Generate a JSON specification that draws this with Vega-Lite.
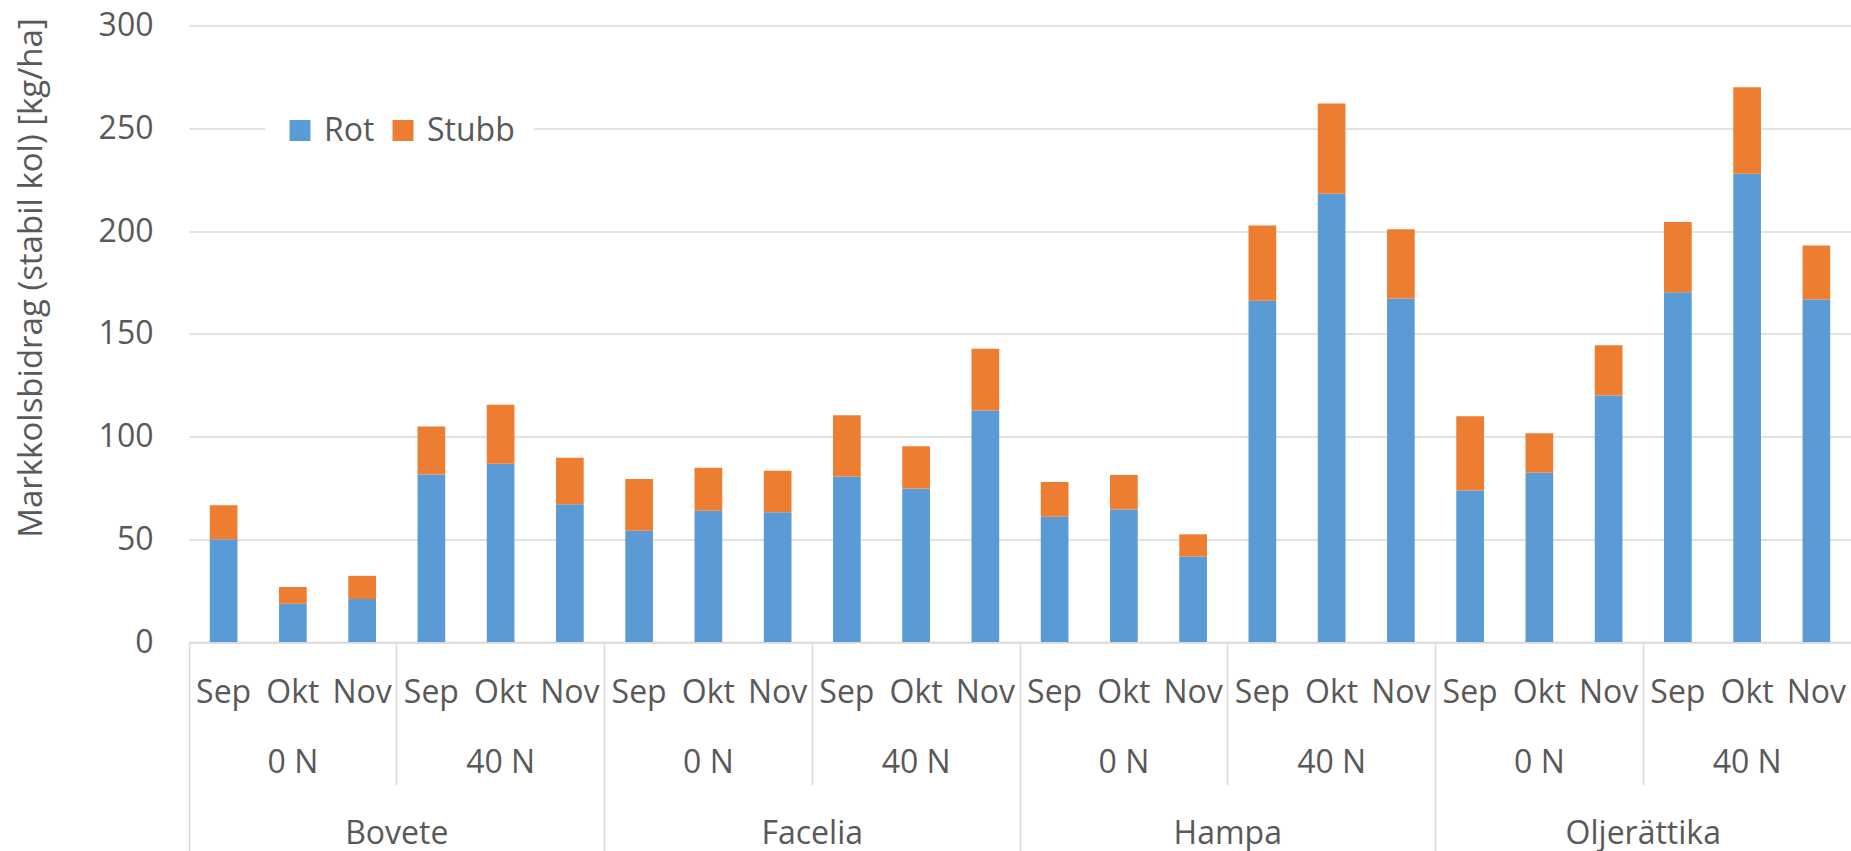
{
  "$schema": "https://vega.github.io/schema/vega-lite/v6.json",
  "width": 1662,
  "height": 616.5,
  "autosize": {"type": "none"},
  "padding": {"left": 189, "top": 25.5, "right": 0, "bottom": 209},
  "config": {
    "font": "Open Sans",
    "view": {"stroke": null},
    "axis": {"labelFont": "Open Sans", "titleFont": "Open Sans", "labelColor": "#595959", "titleColor": "#595959", "labelFontSize": 32, "titleFontSize": 33, "titleFontWeight": "normal"}
  },
  "data": {
    "values": [
      {"g": "Bovete|0 N|Sep", "part": "Rot", "v": 50.0}, {"g": "Bovete|0 N|Sep", "part": "Stubb", "v": 16.6},
      {"g": "Bovete|0 N|Okt", "part": "Rot", "v": 18.6}, {"g": "Bovete|0 N|Okt", "part": "Stubb", "v": 8.2},
      {"g": "Bovete|0 N|Nov", "part": "Rot", "v": 20.9}, {"g": "Bovete|0 N|Nov", "part": "Stubb", "v": 11.3},
      {"g": "Bovete|40 N|Sep", "part": "Rot", "v": 81.5}, {"g": "Bovete|40 N|Sep", "part": "Stubb", "v": 23.4},
      {"g": "Bovete|40 N|Okt", "part": "Rot", "v": 86.8}, {"g": "Bovete|40 N|Okt", "part": "Stubb", "v": 28.7},
      {"g": "Bovete|40 N|Nov", "part": "Rot", "v": 67.0}, {"g": "Bovete|40 N|Nov", "part": "Stubb", "v": 22.7},
      {"g": "Facelia|0 N|Sep", "part": "Rot", "v": 54.1}, {"g": "Facelia|0 N|Sep", "part": "Stubb", "v": 25.2},
      {"g": "Facelia|0 N|Okt", "part": "Rot", "v": 63.9}, {"g": "Facelia|0 N|Okt", "part": "Stubb", "v": 20.9},
      {"g": "Facelia|0 N|Nov", "part": "Rot", "v": 63.1}, {"g": "Facelia|0 N|Nov", "part": "Stubb", "v": 20.2},
      {"g": "Facelia|40 N|Sep", "part": "Rot", "v": 80.5}, {"g": "Facelia|40 N|Sep", "part": "Stubb", "v": 29.9},
      {"g": "Facelia|40 N|Okt", "part": "Rot", "v": 74.7}, {"g": "Facelia|40 N|Okt", "part": "Stubb", "v": 20.5},
      {"g": "Facelia|40 N|Nov", "part": "Rot", "v": 112.6}, {"g": "Facelia|40 N|Nov", "part": "Stubb", "v": 30.1},
      {"g": "Hampa|0 N|Sep", "part": "Rot", "v": 61.0}, {"g": "Hampa|0 N|Sep", "part": "Stubb", "v": 16.8},
      {"g": "Hampa|0 N|Okt", "part": "Rot", "v": 64.5}, {"g": "Hampa|0 N|Okt", "part": "Stubb", "v": 16.8},
      {"g": "Hampa|0 N|Nov", "part": "Rot", "v": 41.6}, {"g": "Hampa|0 N|Nov", "part": "Stubb", "v": 10.8},
      {"g": "Hampa|40 N|Sep", "part": "Rot", "v": 166.1}, {"g": "Hampa|40 N|Sep", "part": "Stubb", "v": 36.6},
      {"g": "Hampa|40 N|Okt", "part": "Rot", "v": 218.1}, {"g": "Hampa|40 N|Okt", "part": "Stubb", "v": 44.0},
      {"g": "Hampa|40 N|Nov", "part": "Rot", "v": 167.1}, {"g": "Hampa|40 N|Nov", "part": "Stubb", "v": 33.8},
      {"g": "Oljerättika|0 N|Sep", "part": "Rot", "v": 73.7}, {"g": "Oljerättika|0 N|Sep", "part": "Stubb", "v": 36.1},
      {"g": "Oljerättika|0 N|Okt", "part": "Rot", "v": 82.3}, {"g": "Oljerättika|0 N|Okt", "part": "Stubb", "v": 19.3},
      {"g": "Oljerättika|0 N|Nov", "part": "Rot", "v": 120.0}, {"g": "Oljerättika|0 N|Nov", "part": "Stubb", "v": 24.4},
      {"g": "Oljerättika|40 N|Sep", "part": "Rot", "v": 170.2}, {"g": "Oljerättika|40 N|Sep", "part": "Stubb", "v": 34.2},
      {"g": "Oljerättika|40 N|Okt", "part": "Rot", "v": 227.9}, {"g": "Oljerättika|40 N|Okt", "part": "Stubb", "v": 42.0},
      {"g": "Oljerättika|40 N|Nov", "part": "Rot", "v": 166.7}, {"g": "Oljerättika|40 N|Nov", "part": "Stubb", "v": 26.2}
    ]
  },
  "layer": [
    {
      "mark": {"type": "bar", "width": {"band": 0.4}},
      "encoding": {
        "x": {
          "field": "g", "type": "nominal", "sort": null,
          "scale": {"paddingInner": 0, "paddingOuter": 0},
          "axis": {
            "orient": "bottom", "title": null, "ticks": false, "grid": false,
            "domain": true, "domainColor": "#d9d9d9", "domainWidth": 1.5,
            "labelExpr": "split(datum.value, '|')[2]", "labelAngle": 0,
            "labelBaseline": "middle", "labelPadding": 50, "labelOverlap": false, "labelBound": false, "labelFlush": false
          }
        },
        "y": {
          "field": "v", "type": "quantitative", "stack": "zero",
          "scale": {"domain": [0, 300], "nice": false},
          "axis": {
            "title": "Markkolsbidrag (stabil kol) [kg/ha]", "values": [0, 50, 100, 150, 200, 250, 300],
            "grid": true, "gridColor": "#d9d9d9", "gridWidth": 1.5, "domain": false, "ticks": false,
            "labelPadding": 36, "titlePadding": 50, "titleY": 252
          }
        },
        "color": {
          "field": "part", "type": "nominal",
          "scale": {"domain": ["Rot", "Stubb"], "range": ["#5B9BD5", "#ED7D31"]},
          "legend": {
            "orient": "none", "legendX": 76, "legendY": 70, "direction": "horizontal", "title": null,
            "symbolType": "square", "symbolSize": 441, "symbolStrokeWidth": 0,
            "labelFontSize": 32, "labelColor": "#595959", "labelFont": "Open Sans", "labelOffset": 8,
            "columnPadding": 12, "fillColor": "white", "padding": 19
          }
        },
        "order": {"field": "part", "sort": "ascending"}
      }
    },
    {
      "mark": {"type": "bar", "opacity": 0},
      "encoding": {
        "x": {
          "field": "g", "type": "nominal", "sort": null,
          "axis": {
            "orient": "bottom", "title": null, "labels": false, "domain": false, "grid": false,
            "ticks": true, "bandPosition": 0, "tickColor": "#d9d9d9", "tickWidth": 1.5,
            "tickSize": {"condition": {"test": "indexof(datum.value, '|0 N|Sep') >= 0", "value": 209}, "value": 143},
            "tickOpacity": {"condition": {"test": "indexof(datum.value, '|Sep') >= 0", "value": 1}, "value": 0}
          }
        }
      }
    },
    {
      "mark": {"type": "bar", "opacity": 0},
      "encoding": {
        "x": {
          "field": "g", "type": "nominal", "sort": null,
          "axis": {
            "orient": "bottom", "title": null, "domain": false, "grid": false, "ticks": false,
            "labelExpr": "split(datum.value, '|')[2] == 'Okt' ? split(datum.value, '|')[1] : ''",
            "labelAngle": 0, "labelBaseline": "middle", "labelPadding": 120,
            "labelOverlap": false, "labelBound": false, "labelFlush": false
          }
        }
      }
    },
    {
      "mark": {"type": "bar", "opacity": 0},
      "encoding": {
        "x": {
          "field": "g", "type": "nominal", "sort": null,
          "axis": {
            "orient": "bottom", "title": null, "domain": false, "grid": false, "ticks": false,
            "labelExpr": "(split(datum.value, '|')[1] == '0 N' && split(datum.value, '|')[2] == 'Nov') ? split(datum.value, '|')[0] : ''",
            "labelAngle": 0, "labelBaseline": "middle", "labelPadding": 191, "labelOffset": 34.625,
            "labelOverlap": false, "labelBound": false, "labelFlush": false
          }
        }
      }
    }
  ],
  "resolve": {"axis": {"x": "independent"}}
}
